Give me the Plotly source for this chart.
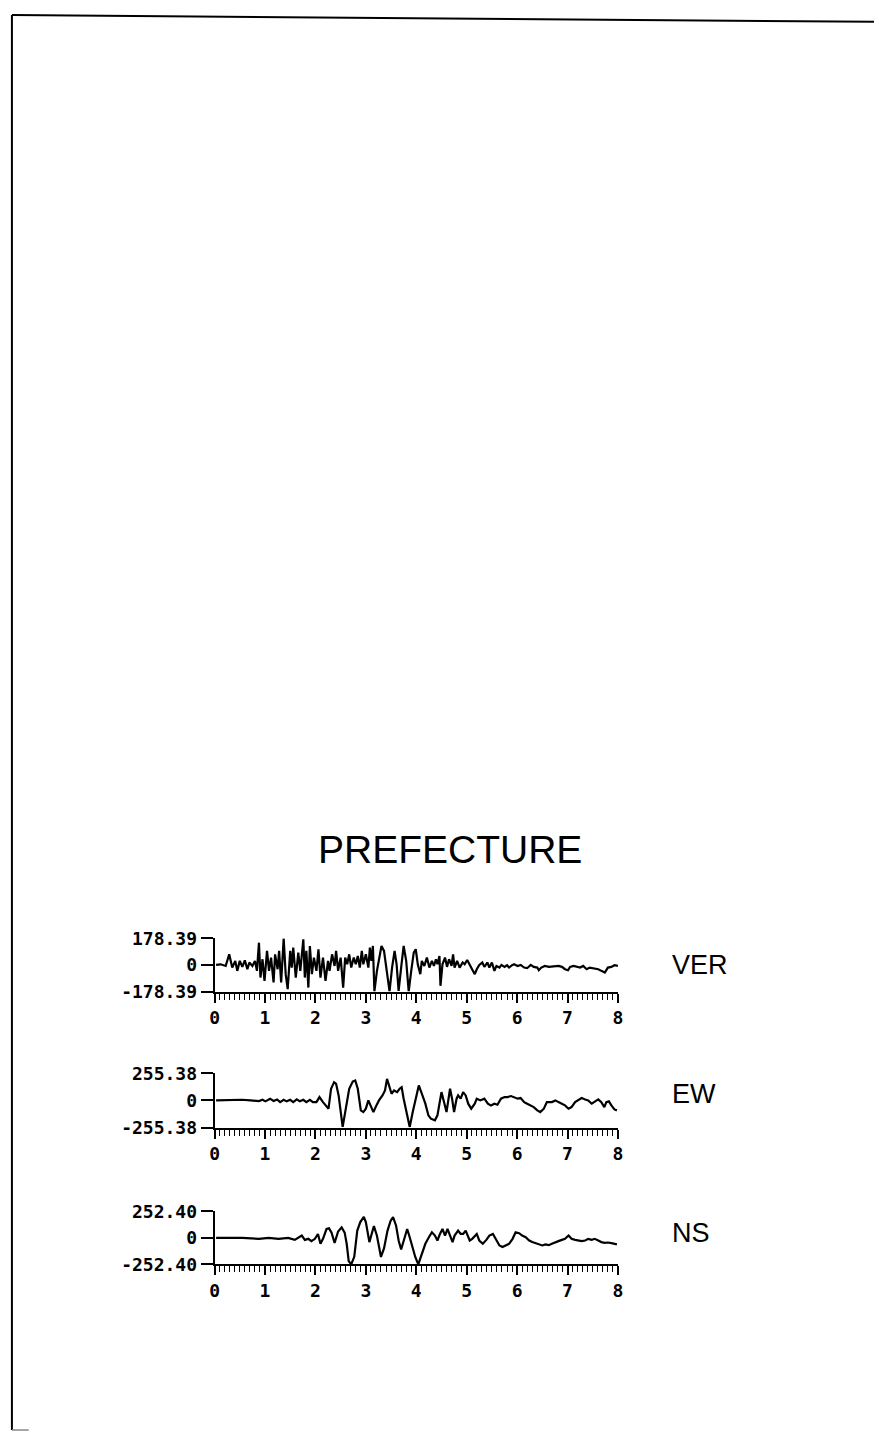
import plotly.graph_objects as go

W, H = 879, 1442

# Station and components
title_text = "PREFECTURE"
components = ["VER", "EW", "NS"]
peaks = [178.39, 255.38, 252.40]
x_ticks = [0, 1, 2, 3, 4, 5, 6, 7, 8]

# Vertical component (time in s, acceleration)
ver_t = [0.03, 0.12, 0.22, 0.29, 0.35, 0.41, 0.45, 0.50, 0.55, 0.60, 0.65, 0.69, 0.75, 0.80,
         0.84, 0.88, 0.91, 0.95, 0.99, 1.04, 1.08, 1.12, 1.17, 1.20, 1.25, 1.28, 1.32, 1.37,
         1.41, 1.45, 1.50, 1.53, 1.56, 1.61, 1.66, 1.70, 1.76, 1.79, 1.82, 1.86, 1.89, 1.93,
         1.97, 2.02, 2.06, 2.10, 2.15, 2.20, 2.25, 2.28, 2.33, 2.38, 2.41, 2.45, 2.50, 2.55,
         2.59, 2.63, 2.67, 2.71, 2.76, 2.80, 2.84, 2.88, 2.92, 2.95, 3.00, 3.05, 3.08, 3.11,
         3.14, 3.17, 3.22, 3.26, 3.31, 3.36, 3.40, 3.44, 3.47, 3.52, 3.57, 3.61, 3.65, 3.70,
         3.75, 3.80, 3.85, 3.90, 3.95, 3.99, 4.03, 4.08, 4.11, 4.16, 4.21, 4.26, 4.31, 4.35,
         4.39, 4.42, 4.46, 4.48, 4.52, 4.57, 4.61, 4.65, 4.70, 4.73, 4.76, 4.81, 4.86, 4.92,
         4.96, 5.01, 5.06, 5.11, 5.16, 5.20, 5.25, 5.31, 5.35, 5.41, 5.45, 5.50, 5.55, 5.59,
         5.65, 5.69, 5.75, 5.80, 5.84, 5.90, 5.94, 6.01, 6.07, 6.14, 6.20, 6.27, 6.33, 6.40,
         6.43, 6.48, 6.55, 6.63, 6.73, 6.82, 6.89, 6.95, 7.01, 7.05, 7.12, 7.18, 7.25, 7.31,
         7.38, 7.44, 7.51, 7.61, 7.67, 7.74, 7.80, 7.87, 7.93, 8.00]
ver_a = [0, 4, -7, 71, -18, 27, -40, 27, -13, 31, -29, 16, -7, 27,
         -40, 149, -85, 38, -107, 94, -40, 49, -118, 71, -29, 94, -118, 176,
         -62, -163, 94, -18, 116, -85, 83, -40, 172, -85, 94, -152, 127, -62,
         49, -40, 105, -85, 49, -107, 27, -40, 71, -7, 94, -40, 49, -152,
         49, 4, 71, -18, 49, 4, 60, -18, 94, 4, 71, -18, 116, 27,
         127, -178, -40, 49, 127, 94, 4, -85, -178, -18, 94, 4, -174, -18,
         127, 27, -178, -40, 83, 105, 4, -62, 27, -7, 49, -18, 27, -7,
         38, 4, 60, -140, 4, 49, -13, 38, -7, 71, -18, 27, -18, 16,
         4, 33, 4, -29, -62, -29, 0, 16, -13, 16, -18, 16, -40, -7,
         -18, 0, -13, -2, -18, -2, 4, -7, 0, -18, -22, 0, -13, -18,
         -36, -18, -7, -13, -11, -7, -13, -29, -36, -13, -7, -13, -18, -7,
         -29, -18, -22, -29, -40, -51, -18, -13, -2, -7]

# East-west component
ew_t = [0.03, 0.55, 0.71, 0.88, 0.95, 1.01, 1.10, 1.17, 1.24, 1.30, 1.37, 1.43, 1.50, 1.56,
        1.63, 1.69, 1.76, 1.82, 1.89, 1.95, 2.02, 2.08, 2.15, 2.22, 2.26, 2.31, 2.37, 2.41,
        2.46, 2.54, 2.61, 2.67, 2.74, 2.79, 2.84, 2.90, 2.95, 3.00, 3.05, 3.10, 3.15, 3.21,
        3.26, 3.33, 3.38, 3.42, 3.47, 3.51, 3.56, 3.62, 3.67, 3.71, 3.75, 3.80, 3.87, 3.93,
        3.98, 4.05, 4.11, 4.18, 4.24, 4.29, 4.37, 4.42, 4.46, 4.50, 4.55, 4.60, 4.63, 4.67,
        4.71, 4.75, 4.80, 4.83, 4.88, 4.93, 4.98, 5.03, 5.09, 5.16, 5.20, 5.27, 5.35, 5.42,
        5.48, 5.55, 5.61, 5.68, 5.75, 5.81, 5.88, 5.94, 6.01, 6.07, 6.14, 6.20, 6.27, 6.33,
        6.40, 6.46, 6.53, 6.59, 6.69, 6.76, 6.82, 6.89, 6.95, 7.02, 7.08, 7.15, 7.22, 7.28,
        7.35, 7.41, 7.48, 7.54, 7.61, 7.67, 7.73, 7.77, 7.82, 7.87, 7.93, 7.98]
ew_a = [0, 6, 0, -6, 6, -9, 16, -6, 9, -16, 6, -9, 6, -16,
        9, -9, 6, -16, 6, -16, -16, 31, -16, -63, -78, 110, 172, 156,
        47, -250, -31, 110, 178, 188, 110, -94, -110, -78, 0, -63, -110, -47,
        0, 47, 94, 203, 125, 63, 94, 78, 110, 125, 16, -110, -250, -110,
        0, 141, 63, -31, -141, -172, -188, -141, -31, 78, -16, -110, -16, 110,
        16, -110, 16, 47, 16, 78, 47, -31, -78, -31, 16, 0, 16, -31,
        -47, -31, -41, 16, 31, 31, 41, 31, 16, 22, -16, -31, -47, -63,
        -94, -110, -78, -16, -16, 0, -16, -31, -47, -78, -63, -16, 9, 22,
        9, 0, -31, -16, 9, -16, -63, -16, -9, -47, -85, -94]

# North-south component
ns_t = [0.03, 0.55, 0.88, 1.07, 1.27, 1.46, 1.59, 1.66, 1.73, 1.79, 1.86, 1.92, 1.99, 2.05,
        2.10, 2.15, 2.22, 2.27, 2.32, 2.38, 2.45, 2.52, 2.58, 2.62, 2.66, 2.71, 2.77, 2.83,
        2.89, 2.96, 3.00, 3.07, 3.12, 3.16, 3.22, 3.30, 3.36, 3.43, 3.49, 3.54, 3.60, 3.65,
        3.70, 3.76, 3.82, 3.87, 3.92, 3.98, 4.04, 4.11, 4.18, 4.25, 4.31, 4.37, 4.42, 4.47,
        4.52, 4.57, 4.62, 4.67, 4.72, 4.76, 4.83, 4.88, 4.93, 4.98, 5.03, 5.06, 5.11, 5.16,
        5.20, 5.25, 5.32, 5.39, 5.45, 5.52, 5.58, 5.65, 5.71, 5.78, 5.84, 5.91, 5.97, 6.04,
        6.10, 6.17, 6.24, 6.30, 6.37, 6.43, 6.50, 6.56, 6.63, 6.69, 6.76, 6.82, 6.89, 6.95,
        7.02, 7.08, 7.15, 7.22, 7.28, 7.35, 7.41, 7.48, 7.54, 7.61, 7.67, 7.74, 7.80, 7.87,
        7.93, 7.98]
ns_a = [0, 0, -9, 0, -9, 0, -19, 0, 22, -19, -9, -31, -9, 37,
        -56, -9, 84, 90, 50, -47, 60, 100, 50, -56, -220, -252, -180, 69,
        150, 200, 150, -40, 60, 112, 20, -181, -100, 69, 160, 196, 115, -25,
        -110, -10, 84, 6, -87, -181, -252, -150, -56, 6, 53, 22, -25, 37,
        84, 22, 84, 22, -40, 22, 69, 37, 37, 69, 6, -25, -9, 22,
        37, -25, -56, -19, 22, 37, -9, -72, -87, -72, -56, -9, 53, 44,
        22, 6, -25, -40, -50, -56, -72, -62, -69, -56, -40, -31, -19, -9,
        22, -9, -19, -25, -31, -25, -9, -19, -9, -25, -40, -47, -44, -50,
        -56, -62]

series_t = [ver_t, ew_t, ns_t]
series_a = [ver_a, ew_a, ns_a]


def px_x(p):
    return p / W


def px_y(p):
    return 1 - p / H


# Panel placement in page pixels: (top tick y, bottom axis y)
x_left, x_right = 212, 620
panel_rows = [(941, 995), (1078, 1133), (1218, 1272)]
label_rows = [968, 1099, 1240]

fig = go.Figure()
tick_font = dict(family="DejaVu Sans Mono", size=18, color="black", weight="bold")

for i, (t, a, pk, (top, bot)) in enumerate(zip(series_t, series_a, peaks, panel_rows)):
    n = "" if i == 0 else str(i + 1)
    fig.add_trace(go.Scatter(
        x=t, y=a, mode="lines", xaxis="x" + n, yaxis="y" + n,
        line=dict(color="black", width=2.2), showlegend=False, hoverinfo="skip",
    ))
    fig.layout["xaxis" + n] = dict(
        domain=[px_x(x_left), px_x(x_right)], anchor="y" + n, range=[0, 8],
        showgrid=False, zeroline=False, showline=True, linecolor="black", linewidth=2,
        ticks="outside", tickvals=x_ticks, ticklen=9, tickwidth=2, tickcolor="black",
        ticktext=[str(v) for v in x_ticks], tickfont=tick_font,
        minor=dict(dtick=0.1, tick0=0, ticks="outside", ticklen=6, tickwidth=1.3,
                   tickcolor="black", showgrid=False),
        fixedrange=True,
    )
    fig.layout["yaxis" + n] = dict(
        domain=[px_y(bot), px_y(top)], anchor="x" + n, range=[-pk, pk],
        showgrid=False, zeroline=False, showline=True, linecolor="black", linewidth=2,
        ticks="outside", tickvals=[-pk, 0, pk], ticklen=12, tickwidth=2, tickcolor="black",
        ticktext=[f"-{pk:.2f}", "0", f"{pk:.2f}"], tickfont=tick_font,
        fixedrange=True,
    )

annotations = [dict(
    text=title_text, x=px_x(450), y=px_y(851), xref="paper", yref="paper",
    xanchor="center", yanchor="middle", showarrow=False,
    font=dict(family="Liberation Sans", size=39, color="black"),
)]
for name, ly in zip(components, label_rows):
    annotations.append(dict(
        text=name, x=px_x(673), y=px_y(ly), xref="paper", yref="paper",
        xanchor="left", yanchor="middle", showarrow=False,
        font=dict(family="Liberation Sans", size=27, color="black"),
    ))

# Page frame lines (left edge, top edge, bottom-left stub)
frame = [
    dict(type="line", xref="paper", yref="paper", x0=px_x(7), y0=px_y(4), x1=px_x(7), y1=px_y(1440),
         line=dict(color="black", width=2)),
    dict(type="line", xref="paper", yref="paper", x0=px_x(7), y0=px_y(4), x1=px_x(879), y1=px_y(11),
         line=dict(color="black", width=2)),
    dict(type="line", xref="paper", yref="paper", x0=px_x(7), y0=px_y(1440), x1=px_x(24), y1=px_y(1440),
         line=dict(color="#888888", width=1.5)),
]

fig.update_layout(
    width=W, height=H, margin=dict(l=0, r=0, t=0, b=0),
    paper_bgcolor="white", plot_bgcolor="white",
    annotations=annotations, shapes=frame, showlegend=False,
)

fig.write_html("out.html", config={"displayModeBar": False})
